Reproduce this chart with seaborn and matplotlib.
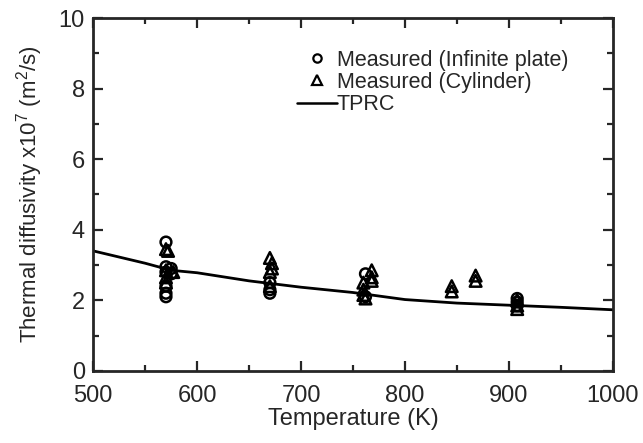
import numpy as np
import pandas as pd
import matplotlib
matplotlib.use("Agg")
import matplotlib.pyplot as plt
import seaborn as sns
from matplotlib.lines import Line2D

# measured - infinite plate (circles)
plate_t = [570, 570, 570, 570, 570, 570, 575, 575, 670, 670, 670, 762, 762, 908, 908, 908]
plate_a = [3.65, 2.95, 2.8, 2.4, 2.2, 2.1, 2.9, 2.75, 2.5, 2.3, 2.2, 2.75, 2.1, 2.05, 1.95, 1.85]

# measured - cylinder (triangles)
cyl_t = [570, 572, 570, 570, 570, 577, 670, 672, 672, 670, 670, 760, 760, 760, 762,
         768, 768, 768, 845, 845, 868, 868, 908, 908, 908]
cyl_a = [3.45, 3.4, 2.85, 2.65, 2.5, 2.8, 3.2, 3.05, 2.9, 2.8, 2.4, 2.5, 2.3, 2.15, 2.05,
         2.85, 2.65, 2.55, 2.4, 2.25, 2.7, 2.55, 2.0, 1.85, 1.75]

# TPRC reference curve
tprc_t = [500, 550, 575, 600, 650, 700, 750, 800, 850, 900, 950, 1000]
tprc_a = [3.4, 3.05, 2.85, 2.78, 2.55, 2.37, 2.22, 2.02, 1.92, 1.86, 1.8, 1.73]

sns.set_style("ticks")
plt.rcParams['font.family'] = ['Liberation Sans', 'DejaVu Sans']
plt.rcParams['mathtext.default'] = 'regular'
plt.rcParams['xtick.direction'] = 'in'
plt.rcParams['ytick.direction'] = 'in'

fig = plt.figure(figsize=(6.43, 4.43), dpi=100)
ax = fig.add_axes([0.145, 0.163, 0.808, 0.796])

sns.lineplot(x=tprc_t, y=tprc_a, color='black', lw=2, ax=ax)
sns.scatterplot(x=plate_t, y=plate_a, marker='o', s=60, facecolor='none',
                edgecolor='black', linewidth=1.8, ax=ax)
sns.scatterplot(x=cyl_t, y=cyl_a, marker='^', s=70, facecolor='none',
                edgecolor='black', linewidth=1.8, ax=ax)

ax.set_xlim(500, 1000)
ax.set_ylim(0, 10)
ax.set_xticks(range(500, 1001, 100))
ax.set_xticks(range(550, 1000, 100), minor=True)
ax.set_yticks(range(0, 11, 2))
ax.set_yticks(range(1, 10, 2), minor=True)
ax.tick_params(which='major', length=7, width=1.6, labelsize=17, top=True, right=True)
ax.tick_params(axis='x', which='major', pad=10)
ax.tick_params(axis='y', which='major', pad=6)
ax.tick_params(which='minor', length=4, width=1.6, top=True, right=True)
for s in ax.spines.values():
    s.set_linewidth(2)
    s.set_visible(True)

ax.set_xlabel("Temperature (K)", fontsize=17, labelpad=1)
ax.set_ylabel("Thermal diffusivity x10$^7$ (m$^2$/s)", fontsize=16, labelpad=10)

handles = [
    Line2D([], [], marker='o', ls='none', mfc='none', mec='black', mew=1.6, ms=6),
    Line2D([], [], marker='^', ls='none', mfc='none', mec='black', mew=1.6, ms=7),
    Line2D([], [], color='black', lw=1.8),
]
ax.legend(handles, ["Measured (Infinite plate)", "Measured (Cylinder)", "TPRC"],
          loc='upper left', bbox_to_anchor=(0.392, 0.91), frameon=False, fontsize=15.5,
          handlelength=1.85, handletextpad=0.0, labelspacing=0.05, borderpad=0,
          borderaxespad=0)

fig.savefig("out.png", dpi=100)
